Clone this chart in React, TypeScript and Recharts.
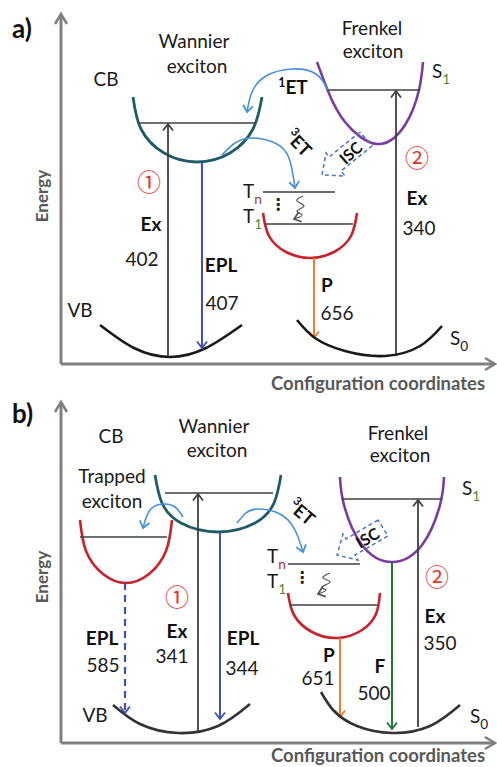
import React from "react";
import { ComposedChart, Line, Scatter, XAxis, YAxis } from "recharts";

// Everything is placed in picture coordinates (x right, y down).
type Pair = [number, number];
type Pt = { x: number; y: number };

const W = 497;
const H = 767;

// ---- panel a) ----
const energyAxisA: Pair[] = [[61, 364], [61, 14]];
const configAxisA: Pair[] = [[61, 364], [495, 364]];
const wannierA: Pair[] = [[133, 97], [141, 129], [164, 153], [197, 162], [230, 153], [253, 129], [262, 97]];
const levelWannierA: Pair[] = [[138, 123], [255, 123]];
const vbA: Pair[] = [[100, 325], [134, 348], [170, 357], [206, 348], [242, 325]];
const exLeftA: Pair[] = [[168, 356], [168, 124]];
const eplA: Pair[] = [[202, 163], [202, 348]];
const frenkelA: Pair[] = [[317, 62], [328, 91], [345, 122], [377, 144], [405, 125], [419, 90], [423, 62]];
const levelS1A: Pair[] = [[328, 90], [420, 90]];
const exRightA: Pair[] = [[396, 355], [396, 91]];
const tripletA: Pair[] = [[263, 213], [269, 236], [286, 252], [310, 258], [334, 252], [351, 236], [357, 213]];
const levelTnA: Pair[] = [[263, 192], [335, 192]];
const levelT1A: Pair[] = [[265, 224], [353, 224]];
const phosA: Pair[] = [[314, 258], [314, 338]];
const s0A: Pair[] = [[297, 320], [315, 338], [345, 351], [385, 356], [420, 346], [442, 326]];
const et1A: Pair[] = [[328, 90], [316, 74], [292, 69], [266, 76], [252, 92], [247, 112]];
const et3A: Pair[] = [[222, 155], [235, 143], [252, 138], [275, 143], [289, 158], [295, 188]];
const iscA: Pair[] = [[360, 132], [329, 157], [326, 153], [322, 175], [345, 176], [341, 171], [372, 146], [360, 132]];
const waveA: Pair[] = [[303, 196], [297, 201], [304, 206], [297, 211], [302, 215], [294, 219]];

// ---- panel b) ----
const energyAxisB: Pair[] = [[61, 743], [61, 402]];
const configAxisB: Pair[] = [[61, 743], [495, 743]];
const wannierB: Pair[] = [[155, 475], [162, 503], [181, 523], [218, 532], [255, 523], [274, 503], [281, 475]];
const levelWannierB: Pair[] = [[165, 493], [273, 493]];
const trappedB: Pair[] = [[80, 520], [86, 551], [103, 574], [126, 583], [149, 574], [166, 551], [172, 520]];
const levelTrappedB: Pair[] = [[80, 537], [167, 537]];
const vbB: Pair[] = [[113, 705], [140, 724], [178, 733], [218, 726], [250, 704]];
const exLeftB: Pair[] = [[198, 733], [198, 494]];
const eplB: Pair[] = [[220, 532], [220, 719]];
const eplTrapB: Pair[] = [[125, 583], [125, 713]];
const trapEtB: Pair[] = [[183, 517], [175, 507], [163, 504], [150, 510], [143, 528]];
const frenkelB: Pair[] = [[340, 477], [344, 505], [362, 545], [392, 562], [422, 545], [440, 505], [444, 477]];
const levelS1B: Pair[] = [[342, 499], [442, 499]];
const exRightB: Pair[] = [[418, 727], [418, 500]];
const fluoB: Pair[] = [[392, 562], [392, 729]];
const tripletB: Pair[] = [[288, 593], [294, 615], [312, 632], [338, 638], [362, 630], [376, 614], [380, 593]];
const levelTnB: Pair[] = [[288, 564], [360, 564]];
const levelT1B: Pair[] = [[290, 605], [377, 605]];
const phosB: Pair[] = [[340, 638], [340, 717]];
const s0B: Pair[] = [[321, 692], [334, 711], [357, 726], [392, 733], [430, 726], [460, 705]];
const et3B: Pair[] = [[237, 523], [246, 513], [258, 509], [280, 514], [295, 530], [303, 552]];
const iscB: Pair[] = [[378, 520], [346, 539], [343, 534], [337, 555], [358, 560], [355, 555], [388, 536], [378, 520]];
const waveB: Pair[] = [[330, 573], [323, 578], [330, 582], [322, 587], [326, 590], [318, 594]];

// ---- texts ----
type Lbl = { x: number; y: number; t: string; sub?: string; sup?: string; anchor?: "start" | "middle"; angle?: number };

const plainLabels: Lbl[] = [
  { x: 194, y: 48, t: "Wannier" },
  { x: 197, y: 73, t: "exciton" },
  { x: 106, y: 86, t: "CB" },
  { x: 372, y: 35, t: "Frenkel" },
  { x: 373, y: 58, t: "exciton" },
  { x: 142, y: 266, t: "402" },
  { x: 222, y: 310, t: "407" },
  { x: 337, y: 320, t: "656" },
  { x: 419, y: 235, t: "340" },
  { x: 80, y: 317, t: "VB" },
  { x: 432, y: 78, t: "S", sub: "1", anchor: "start" },
  { x: 450, y: 345, t: "S", sub: "0", anchor: "start" },
  { x: 243, y: 198, t: "T", sub: "n", anchor: "start" },
  { x: 243, y: 223, t: "T", sub: "1", anchor: "start" },
  { x: 111, y: 443, t: "CB" },
  { x: 214, y: 433, t: "Wannier" },
  { x: 217, y: 457, t: "exciton" },
  { x: 112, y: 483, t: "Trapped" },
  { x: 112, y: 508, t: "exciton" },
  { x: 398, y: 440, t: "Frenkel" },
  { x: 400, y: 462, t: "exciton" },
  { x: 462, y: 495, t: "S", sub: "1", anchor: "start" },
  { x: 267, y: 563, t: "T", sub: "n", anchor: "start" },
  { x: 267, y: 588, t: "T", sub: "1", anchor: "start" },
  { x: 103, y: 672, t: "585" },
  { x: 172, y: 663, t: "341" },
  { x: 242, y: 675, t: "344" },
  { x: 95, y: 722, t: "VB" },
  { x: 318, y: 685, t: "651" },
  { x: 374, y: 700, t: "500" },
  { x: 440, y: 650, t: "350" },
  { x: 470, y: 723, t: "S", sub: "0", anchor: "start" },
];

const boldLabels: Lbl[] = [
  { x: 151, y: 231, t: "Ex" },
  { x: 221, y: 272, t: "EPL" },
  { x: 327, y: 292, t: "P" },
  { x: 417, y: 205, t: "Ex" },
  { x: 293, y: 94, t: "ET", sup: "1" },
  { x: 102, y: 645, t: "EPL" },
  { x: 177, y: 638, t: "Ex" },
  { x: 243, y: 645, t: "EPL" },
  { x: 329, y: 662, t: "P" },
  { x: 380, y: 673, t: "F" },
  { x: 435, y: 623, t: "Ex" },
];

const tiltedLabels: Lbl[] = [
  { x: 299, y: 143, t: "ET", sup: "3", angle: 45 },
  { x: 302, y: 512, t: "ET", sup: "3", angle: 40 },
];

const iscLabels: Lbl[] = [
  { x: 350, y: 152, t: "ISC", angle: -42 },
  { x: 367, y: 537, t: "ISC", angle: -30 },
];

const routeMarks: Lbl[] = [
  { x: 149, y: 191, t: "①" },
  { x: 417, y: 167, t: "②" },
  { x: 177, y: 606, t: "①" },
  { x: 437, y: 586, t: "②" },
];

const dotMarks: Lbl[] = [
  { x: 278, y: 210, t: "⋮" },
  { x: 302, y: 583, t: "⋮" },
];

const panelLetters: Lbl[] = [
  { x: 12, y: 38, t: "a)", anchor: "start" },
  { x: 12, y: 423, t: "b)", anchor: "start" },
];

const energyTitles: Lbl[] = [
  { x: 41, y: 196, t: "Energy", angle: -90 },
  { x: 41, y: 577, t: "Energy", angle: -90 },
];

const configTitles: Lbl[] = [
  { x: 271, y: 390, t: "Configuration coordinates", anchor: "start" },
  { x: 271, y: 762, t: "Configuration coordinates", anchor: "start" },
];

const FONT = "Lato, 'Open Sans', sans-serif";
const SUB_COLORS: Record<string, string> = { "1": "#4f8a2e", n: "#a8322d" };

const C = {
  axis: "#808080",
  line: "#404040",
  teal: "#1f5c68",
  purple: "#7a3d9f",
  red: "#c8222b",
  black: "#1a1a1a",
  epl: "#3f4fb3",
  orange: "#ed7d31",
  green: "#1e7b34",
  et: "#4a90d9",
  isc: "#4a78b5",
  route: "#e8322d",
};

const toPts = (pairs: Pair[]): Pt[] => pairs.map(([x, y]) => ({ x, y }));

function Rich({ cx, cy, item, size, weight, fill, family }: any) {
  const anchor = item.anchor ?? "middle";
  const tilted = item.angle != null;
  return (
    <text
      x={cx}
      y={cy}
      textAnchor={anchor}
      fontFamily={family ?? FONT}
      fontSize={size}
      fontWeight={weight}
      fill={fill}
      dominantBaseline={tilted ? "central" : undefined}
      transform={tilted ? `rotate(${item.angle} ${cx} ${cy})` : undefined}
    >
      {item.sup && (
        <tspan fontSize={size * 0.65} dy={-size * 0.35}>
          {item.sup}
        </tspan>
      )}
      <tspan dy={item.sup ? size * 0.35 : 0}>{item.t}</tspan>
      {item.sub && (
        <tspan fontSize={size * 0.72} dy={size * 0.3} fill={SUB_COLORS[item.sub] ?? fill}>
          {item.sub}
        </tspan>
      )}
    </text>
  );
}

const textSeries = (name: string, data: Lbl[], size: number, weight: number, fill: string, family?: string) => (
  <Scatter
    key={name}
    name={name}
    data={data}
    isAnimationActive={false}
    shape={(p: any) => <Rich cx={p.cx} cy={p.cy} item={p.payload} size={size} weight={weight} fill={fill} family={family} />}
  />
);

type StrokeOpts = { curve?: boolean; dash?: string; head?: string };

const stroke = (id: string, pairs: Pair[], color: string, width: number, opts: StrokeOpts = {}) => (
  <Line
    key={id}
    data={toPts(pairs)}
    dataKey="y"
    type={opts.curve ? "natural" : "linear"}
    stroke={color}
    strokeWidth={width}
    strokeDasharray={opts.dash}
    markerEnd={opts.head ? `url(#head-${opts.head})` : undefined}
    dot={false}
    activeDot={false}
    legendType="none"
    isAnimationActive={false}
  />
);

const HEADS: Record<string, string> = {
  line: C.line,
  epl: C.epl,
  orange: C.orange,
  green: C.green,
  et: C.et,
  wave: "#555555",
};

export default function App() {
  return (
    <div style={{ position: "absolute", left: 0, top: 0, width: W, height: H, background: "#ffffff" }}>
      <ComposedChart width={W} height={H} margin={{ top: 0, right: 0, bottom: 0, left: 0 }}>
        <defs>
          <marker
            id="head-axis"
            viewBox="0 0 16 16"
            refX={14}
            refY={8}
            markerWidth={16}
            markerHeight={16}
            markerUnits="userSpaceOnUse"
            orient="auto"
            overflow="visible"
          >
            <path d="M4,2 L14,8 L4,14" fill="none" stroke={C.axis} strokeWidth={2.6} />
          </marker>
          {Object.entries(HEADS).map(([k, col]) => (
            <marker
              key={k}
              id={`head-${k}`}
              viewBox="0 0 12 12"
              refX={10.5}
              refY={6}
              markerWidth={12}
              markerHeight={12}
              markerUnits="userSpaceOnUse"
              orient="auto"
              overflow="visible"
            >
              <path d="M4,1 L10.5,6 L4,11" fill="none" stroke={col} strokeWidth={1.8} />
            </marker>
          ))}
        </defs>
        <XAxis type="number" dataKey="x" domain={[0, W]} hide allowDataOverflow />
        <YAxis type="number" dataKey="y" domain={[0, H]} reversed hide allowDataOverflow />

        {/* axes */}
        {stroke("eaA", energyAxisA, C.axis, 3, { head: "axis" })}
        {stroke("caA", configAxisA, C.axis, 3, { head: "axis" })}
        {stroke("eaB", energyAxisB, C.axis, 3, { head: "axis" })}
        {stroke("caB", configAxisB, C.axis, 3, { head: "axis" })}

        {/* panel a */}
        {stroke("wanA", wannierA, C.teal, 2.8, { curve: true })}
        {stroke("lwA", levelWannierA, C.line, 1.5)}
        {stroke("vbA", vbA, C.black, 2.6, { curve: true })}
        {stroke("exA1", exLeftA, C.line, 1.8, { head: "line" })}
        {stroke("eplA", eplA, C.epl, 2, { head: "epl" })}
        {stroke("frA", frenkelA, C.purple, 2.6, { curve: true })}
        {stroke("ls1A", levelS1A, C.line, 1.5)}
        {stroke("exA2", exRightA, C.line, 1.8, { head: "line" })}
        {stroke("trA", tripletA, C.red, 2.6, { curve: true })}
        {stroke("ltnA", levelTnA, C.line, 1.5)}
        {stroke("lt1A", levelT1A, C.line, 1.5)}
        {stroke("pA", phosA, C.orange, 2, { head: "orange" })}
        {stroke("s0A", s0A, C.black, 2.6, { curve: true })}
        {stroke("et1A", et1A, C.et, 1.6, { curve: true, head: "et" })}
        {stroke("et3A", et3A, C.et, 1.6, { curve: true, head: "et" })}
        {stroke("iscA", iscA, C.isc, 1.5, { dash: "4 3" })}
        {stroke("wvA", waveA, "#555555", 1.2, { curve: true, head: "wave" })}

        {/* panel b */}
        {stroke("wanB", wannierB, C.teal, 2.8, { curve: true })}
        {stroke("lwB", levelWannierB, C.line, 1.5)}
        {stroke("tpB", trappedB, C.red, 2.6, { curve: true })}
        {stroke("ltpB", levelTrappedB, C.line, 1.5)}
        {stroke("vbB", vbB, "#333333", 2.6, { curve: true })}
        {stroke("exB1", exLeftB, C.line, 1.8, { head: "line" })}
        {stroke("eplB", eplB, C.epl, 2, { head: "epl" })}
        {stroke("eplTB", eplTrapB, C.epl, 2.2, { dash: "7 5", head: "epl" })}
        {stroke("tetB", trapEtB, C.et, 1.6, { curve: true, head: "et" })}
        {stroke("frB", frenkelB, C.purple, 2.6, { curve: true })}
        {stroke("ls1B", levelS1B, C.line, 1.5)}
        {stroke("exB2", exRightB, C.line, 1.8, { head: "line" })}
        {stroke("fB", fluoB, C.green, 2, { head: "green" })}
        {stroke("trB", tripletB, C.red, 2.6, { curve: true })}
        {stroke("ltnB", levelTnB, C.line, 1.5)}
        {stroke("lt1B", levelT1B, C.line, 1.5)}
        {stroke("pB", phosB, C.orange, 2, { head: "orange" })}
        {stroke("s0B", s0B, "#333333", 2.6, { curve: true })}
        {stroke("et3B", et3B, C.et, 1.6, { curve: true, head: "et" })}
        {stroke("iscB", iscB, C.isc, 1.5, { dash: "4 3" })}
        {stroke("wvB", waveB, "#555555", 1.2, { curve: true, head: "wave" })}

        {/* texts */}
        {textSeries("plain", plainLabels, 19, 400, "#1a1a1a")}
        {textSeries("bold", boldLabels, 19, 700, "#111111")}
        {textSeries("tilted", tiltedLabels, 18, 700, "#111111")}
        {textSeries("isc", iscLabels, 16, 700, "#111111")}
        {textSeries("route", routeMarks, 24, 400, C.route, "'Noto Sans CJK JP', 'DejaVu Sans', sans-serif")}
        {textSeries("dots", dotMarks, 16, 700, "#222222", "'DejaVu Sans', sans-serif")}
        {textSeries("letters", panelLetters, 26, 700, "#111111")}
        {textSeries("energy", energyTitles, 17, 700, "#595959")}
        {textSeries("config", configTitles, 18.5, 700, "#595959")}
      </ComposedChart>
    </div>
  );
}
